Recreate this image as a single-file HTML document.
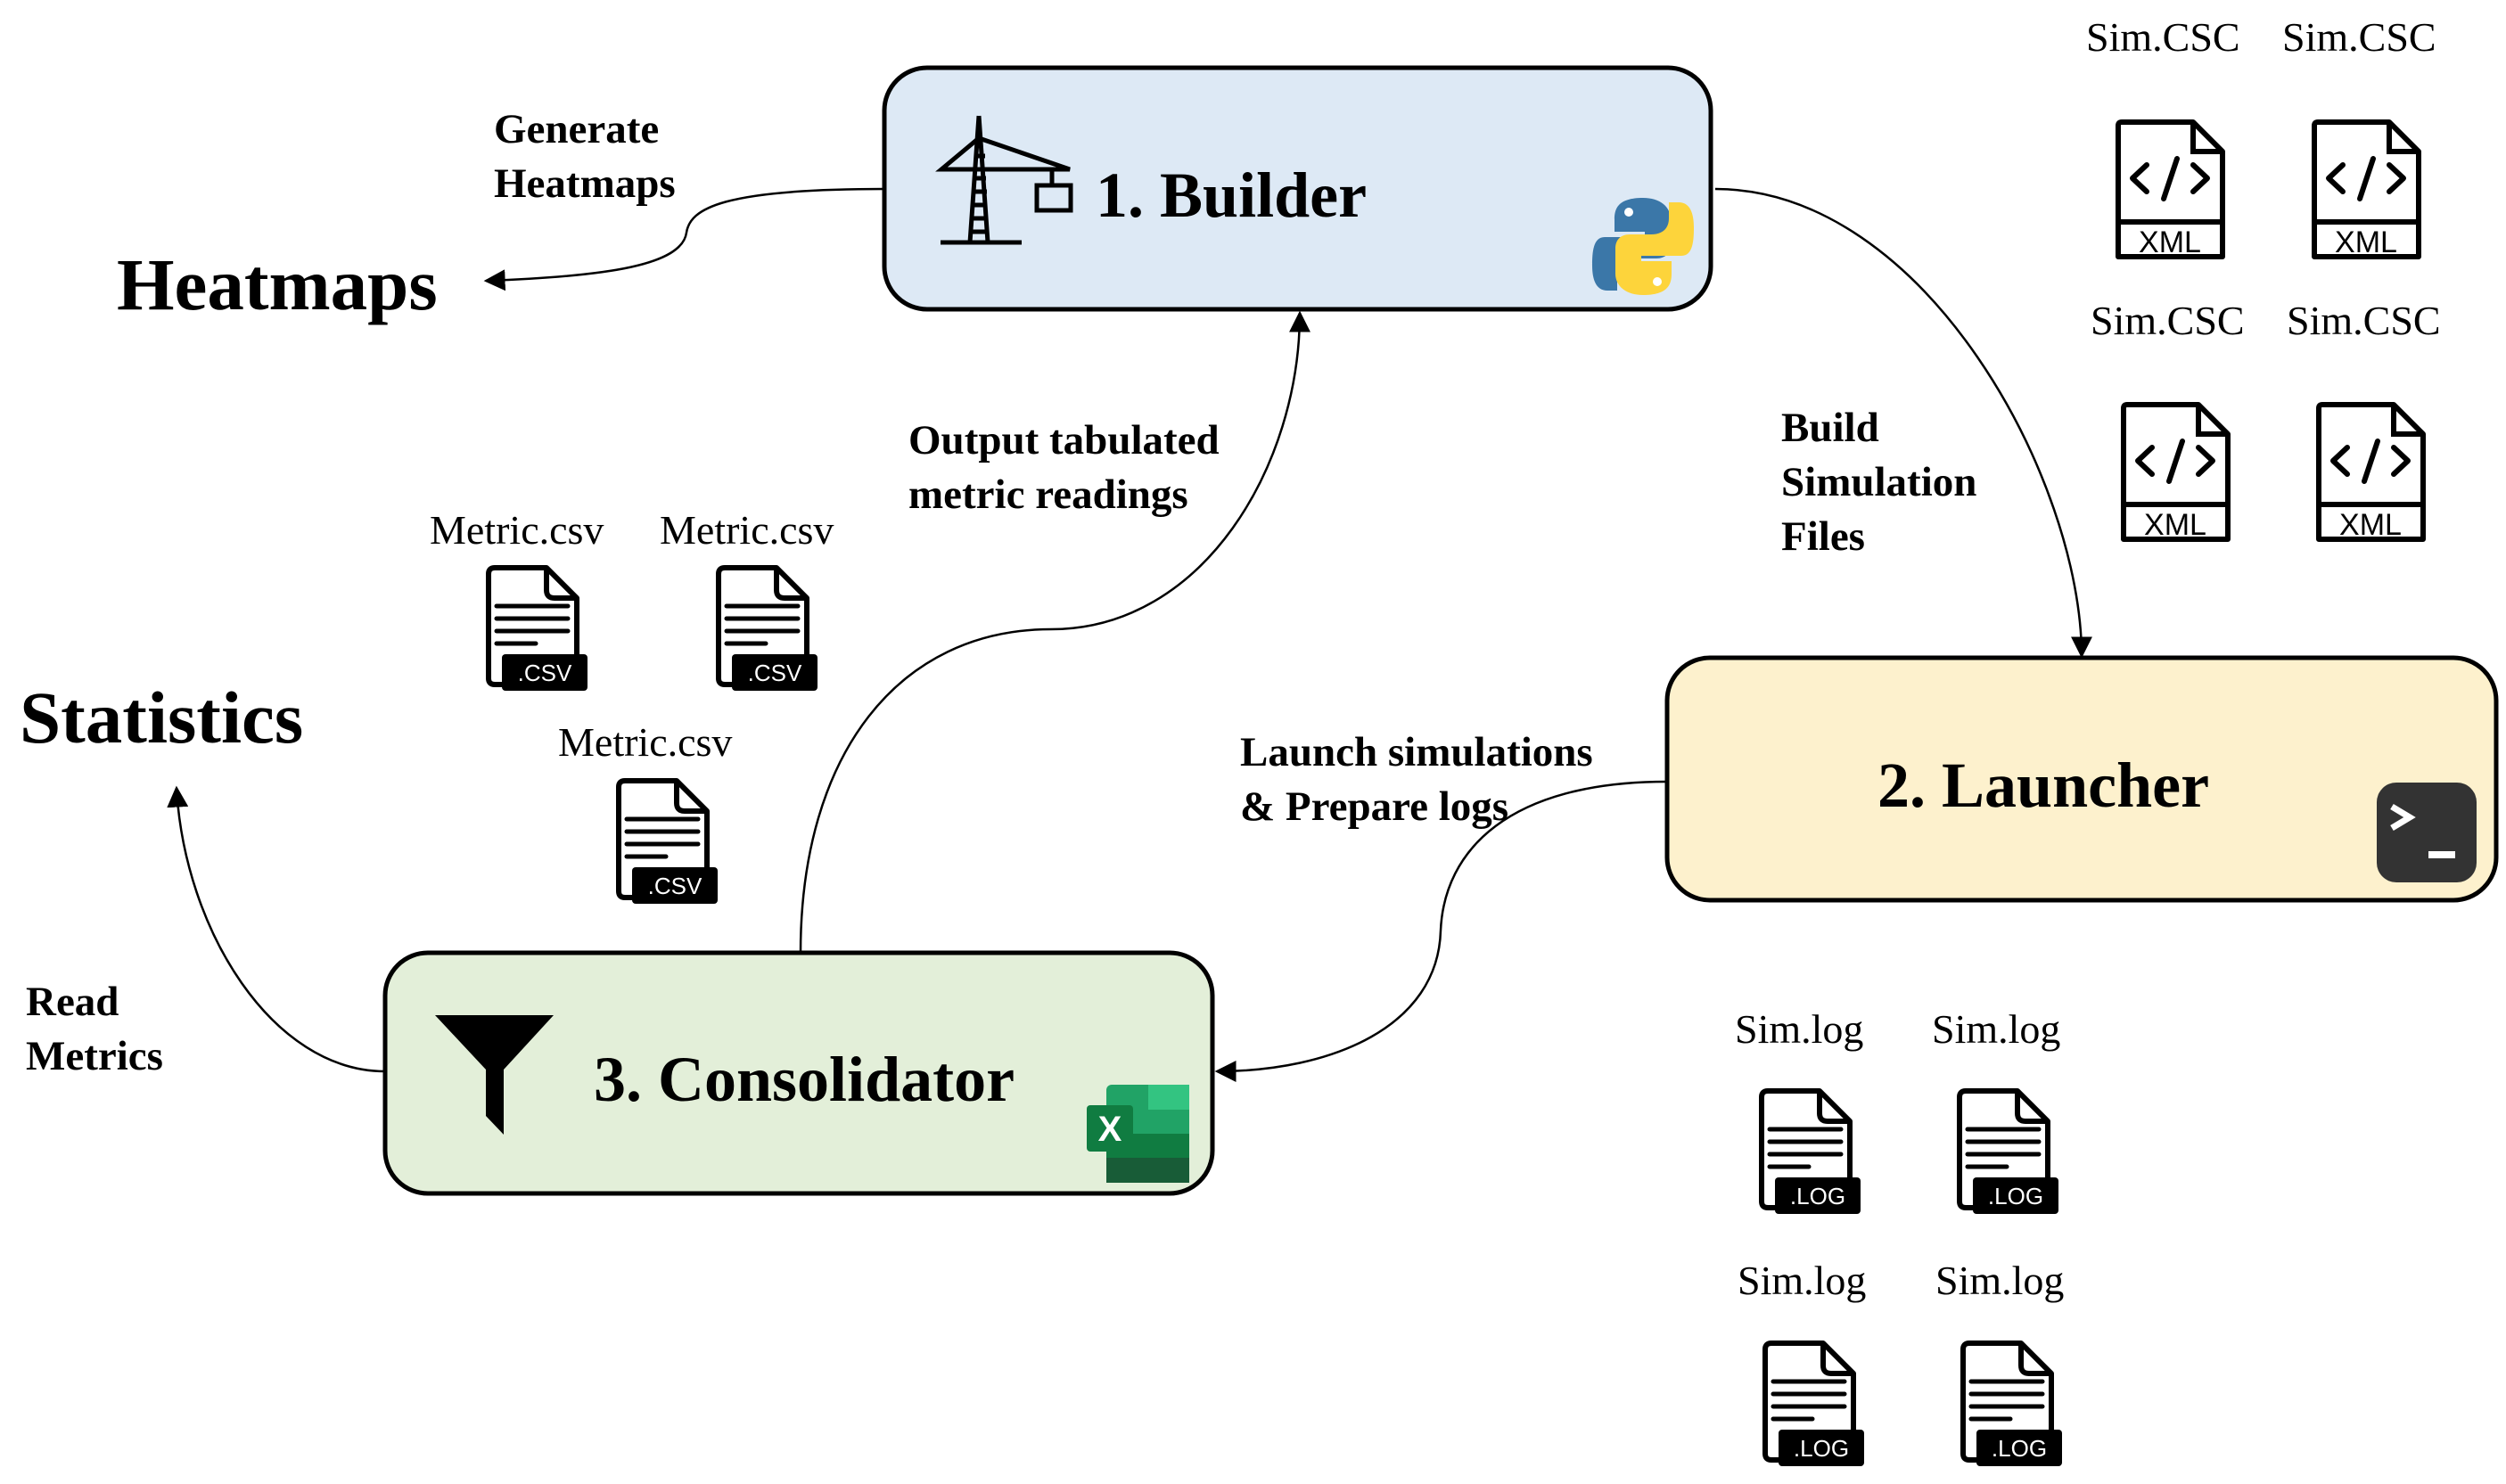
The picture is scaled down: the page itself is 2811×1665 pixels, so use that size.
<!DOCTYPE html>
<html><head><meta charset="utf-8"><style>
html,body{margin:0;padding:0;background:#fff;}
svg{display:block;}
text{font-family:"Liberation Serif",serif;}
.b{font-weight:bold;}
.s text, text.s{font-family:"Liberation Sans",sans-serif;}
</style></head><body>
<svg width="2811" height="1665" viewBox="0 0 2811 1665" xmlns="http://www.w3.org/2000/svg">
<defs>
<marker id="ah2" viewBox="0 0 10 10" refX="9" refY="5" markerWidth="24" markerHeight="24" orient="auto" markerUnits="userSpaceOnUse">
<path d="M0,0 L10,5 L0,10 Z" fill="#000"/>
</marker>
<g id="doc">
<path d="M3,10 Q3,3 10,3 H68 L102,37 V134 H10 Q3,134 3,127 Z" fill="#fff" stroke="#000" stroke-width="6" stroke-linejoin="round"/>
<path d="M68,3 V28 Q68,37 77,37 H102" fill="none" stroke="#000" stroke-width="6" stroke-linejoin="round"/>
<g stroke="#000" stroke-width="5" stroke-linecap="round">
<line x1="12" y1="46" x2="92" y2="46"/><line x1="12" y1="60" x2="92" y2="60"/><line x1="12" y1="74" x2="92" y2="74"/><line x1="12" y1="88" x2="56" y2="88"/>
</g>
<rect x="18" y="100" width="96" height="41" rx="4" fill="#000"/>
</g>
<g id="xml">
<path d="M4,8 Q4,4 8,4 H88 L121,37 V155 H4 Z" fill="#fff" stroke="#000" stroke-width="6" stroke-linejoin="round"/>
<path d="M88,4 V37 H121" fill="none" stroke="#000" stroke-width="6"/>
<line x1="4" y1="116" x2="121" y2="116" stroke="#000" stroke-width="6"/>
<g fill="none" stroke="#000" stroke-width="6" stroke-linecap="round" stroke-linejoin="round">
<path d="M36,52 L20,67 L36,82"/><path d="M88,52 L104,67 L88,82"/><path d="M70,45 L55,90"/>
</g>
</g>
</defs>

<g fill="none" stroke="#000" stroke-width="2.5">
<path d="M992,212 C810,212 774,234 770,261 C765,297 684,310 545,315" marker-end="url(#ah2)"/>
<path d="M1924,212 C2160,212 2335,540 2335,736" marker-end="url(#ah2)"/>
<path d="M898,1069 C898,846 1008,706 1179,706 C1350,706 1458,522 1458,351" marker-end="url(#ah2)"/>
<path d="M1870,877 C1692,877 1620,954 1616,1044 C1613,1152 1494,1202 1365,1202" marker-end="url(#ah2)"/>
<path d="M432,1202 C306,1202 207,1044 198,884" marker-end="url(#ah2)"/>
</g>

<rect x="992" y="76" width="927" height="271" rx="48" fill="#dde9f5" stroke="#000" stroke-width="5"/>
<rect x="1870" y="738" width="930" height="272" rx="48" fill="#fdf1cd" stroke="#000" stroke-width="5"/>
<rect x="432" y="1069" width="928" height="270" rx="48" fill="#e3efd9" stroke="#000" stroke-width="5"/>

<text x="1229" y="243" font-size="72" class="b">1. Builder</text>
<text x="2106" y="905" font-size="72" class="b">2. Launcher</text>
<text x="666" y="1235" font-size="72" class="b">3. Consolidator</text>

<g fill="none" stroke="#000" stroke-width="5">
<path d="M1098,130 L1088,272 M1098,130 L1108,272"/>
<path d="M1056,190 L1098,155 L1200,190 Z"/>
<path d="M1093,175 H1105 M1091,200 H1106 M1090,215 H1107 M1090,230 H1107 M1089,245 H1108 M1089,260 H1108"/>
<path d="M1055,272 H1146"/>
<path d="M1180,190 V207"/>
<rect x="1163" y="208" width="38" height="28"/>
</g>
<g>
<path d="M1843,222 C1815,222 1811,234 1811,246 V260 H1845 V266 H1800 C1787,266 1786,283 1786,298 C1786,313 1790,326 1803,326 H1814 V308 C1814,296 1822,290 1834,290 H1858 C1868,290 1874,284 1874,274 V246 C1874,232 1862,222 1843,222 Z" fill="#3b77a8"/>
<path d="M1843,331 C1871,331 1875,319 1875,307 V293 H1841 V287 H1886 C1899,287 1900,270 1900,255 C1900,240 1896,227 1883,227 H1872 V245 C1872,257 1864,263 1852,263 H1828 C1818,263 1812,269 1812,279 V307 C1812,321 1824,331 1843,331 Z" fill="#fdd43b"/>
<circle cx="1827" cy="238" r="5" fill="#fff"/><circle cx="1859" cy="316" r="5" fill="#fff"/>
</g>
<rect x="2666" y="878" width="112" height="112" rx="22" fill="#333"/>
<path d="M2683,905 L2703,917 L2683,929" fill="none" stroke="#fff" stroke-width="7"/>
<rect x="2724" y="955" width="30" height="8" fill="#fff"/>
<g>
<rect x="1241" y="1217" width="93" height="110" rx="6" fill="#21a366"/>
<rect x="1288" y="1217" width="46" height="28" fill="#33c481"/>
<rect x="1241" y="1272" width="93" height="55" fill="#107c41"/>
<rect x="1241" y="1299" width="93" height="28" fill="#185c37"/>
<rect x="1219" y="1240" width="52" height="52" rx="4" fill="#107c41"/>
<text x="1245" y="1280" font-size="40" fill="#fff" class="s" text-anchor="middle" font-weight="bold">X</text>
</g>
<path d="M488,1139 H621 L565,1200 V1273 L545,1252 V1200 Z" fill="#000"/>

<text x="131" y="347" font-size="83" class="b">Heatmaps</text>
<text x="22" y="833" font-size="83" class="b">Statistics</text>
<g font-size="47" class="b">
<text x="554" y="160">Generate</text><text x="554" y="221">Heatmaps</text>
<text x="1019" y="509">Output tabulated</text><text x="1019" y="570">metric readings</text>
<text x="1998" y="495">Build</text><text x="1998" y="556">Simulation</text><text x="1998" y="617">Files</text>
<text x="1391" y="859">Launch simulations</text><text x="1391" y="920">&amp; Prepare logs</text>
<text x="29" y="1139">Read</text><text x="29" y="1200">Metrics</text>
</g>

<g font-size="46">
<text x="2340" y="57">Sim.CSC</text><text x="2560" y="57">Sim.CSC</text>
<text x="2345" y="375">Sim.CSC</text><text x="2565" y="375">Sim.CSC</text>
<text x="482" y="610">Metric.csv</text><text x="740" y="610">Metric.csv</text>
<text x="626" y="848">Metric.csv</text>
<text x="1946" y="1170">Sim.log</text><text x="2167" y="1170">Sim.log</text>
<text x="1949" y="1452">Sim.log</text><text x="2171" y="1452">Sim.log</text>
</g>

<use href="#xml" x="2372" y="133"/><use href="#xml" x="2592" y="133"/>
<use href="#xml" x="2378" y="450"/><use href="#xml" x="2597" y="450"/>
<g font-size="34" class="s" text-anchor="middle">
<text x="2434" y="283">XML</text><text x="2654" y="283">XML</text>
<text x="2440" y="600">XML</text><text x="2659" y="600">XML</text>
</g>

<use href="#doc" x="545" y="634"/><use href="#doc" x="803" y="634"/><use href="#doc" x="691" y="873"/>
<g font-size="26" class="s" fill="#fff" text-anchor="middle">
<text x="611" y="764">.CSV</text><text x="869" y="764">.CSV</text><text x="757" y="1003">.CSV</text>
</g>
<use href="#doc" x="1973" y="1221"/><use href="#doc" x="2195" y="1221"/>
<use href="#doc" x="1977" y="1504"/><use href="#doc" x="2199" y="1504"/>
<g font-size="26" class="s" fill="#fff" text-anchor="middle">
<text x="2039" y="1351">.LOG</text><text x="2261" y="1351">.LOG</text>
<text x="2043" y="1634">.LOG</text><text x="2265" y="1634">.LOG</text>
</g>
</svg>
</body></html>
